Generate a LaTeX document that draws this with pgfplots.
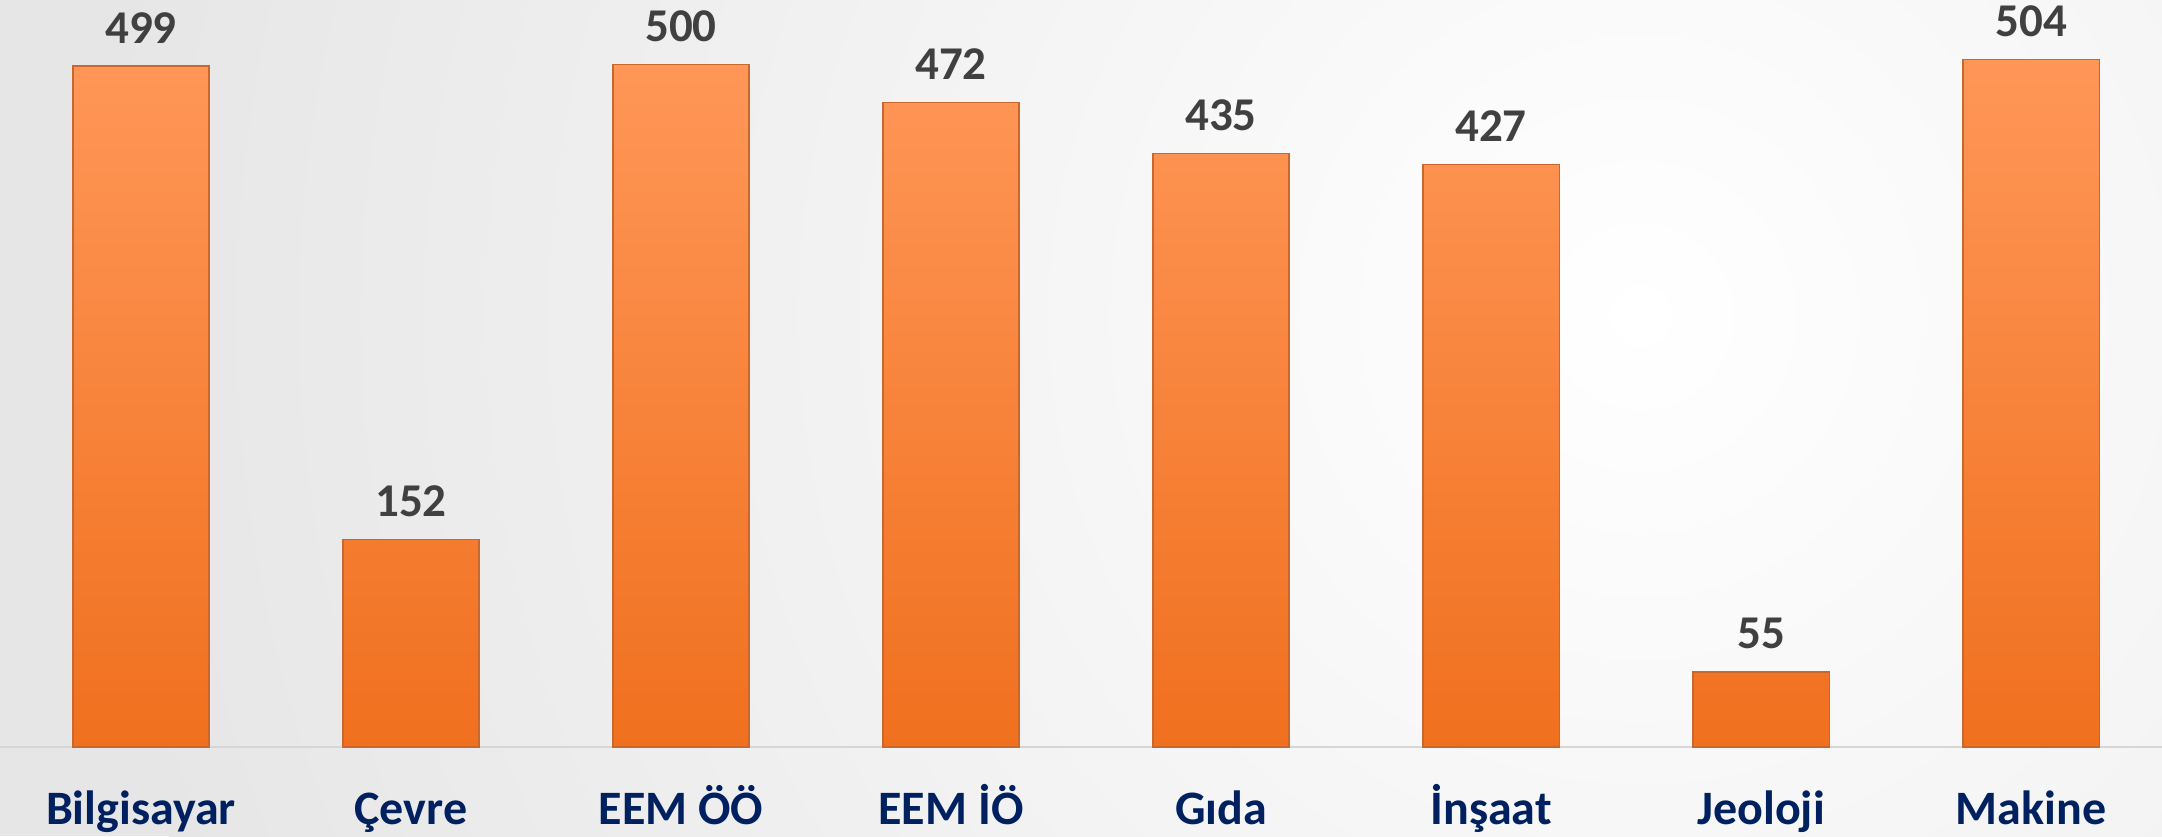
\documentclass[border=0pt]{standalone}
\usepackage{pgfplots}
\pgfplotsset{compat=1.18}
\usepackage{fontspec}
\setmainfont{Carlito}
\definecolor{navy}{HTML}{002060}
\definecolor{numgray}{HTML}{404040}
\definecolor{bartop}{HTML}{FF9758}
\definecolor{barbot}{HTML}{F0701E}
\definecolor{baredge}{HTML}{C9682E}
\definecolor{bgouter}{HTML}{E6E6E6}
\definecolor{baseline}{HTML}{D6D6D6}
\begin{document}
\begin{tikzpicture}
\begin{scope}
\clip (0,0) rectangle (1081pt,418pt);
\fill[bgouter] (0,0) rectangle (1081pt,418pt);
\shade[inner color=white, outer color=bgouter] (820pt,260pt) circle (780pt);
\end{scope}
\begin{axis}[
  at={(0,44.5pt)}, anchor=south west,
  scale only axis, width=1081pt, height=373.5pt,
  xmin=-0.522, xmax=7.485, ymin=0, ymax=547.4,
  axis x line*=bottom, axis y line=none,
  x axis line style={draw=baseline, line width=1pt},
  xtick=data, xtick style={draw=none},
  xticklabels={Bilgisayar, Çevre, EEM ÖÖ, EEM İÖ, Gıda, İnşaat, Jeoloji, Makine},
  xticklabel style={anchor=base, inner sep=0pt, yshift=-34.5pt, font=\fontsize{24}{28}\selectfont\bfseries, text=navy},
  ytick=\empty,
  clip=false,
  ybar, bar width=0.504,
  nodes near coords={\pgfmathprintnumber[assume math mode=true]{\pgfplotspointmeta}},
  every node near coord/.append style={anchor=base, inner sep=0pt, yshift=11.5pt, font=\fontsize{23.5}{27}\selectfont\bfseries, text=numgray},
]
\addplot[draw=baredge, line width=0.6pt, top color=bartop, bottom color=barbot] coordinates {
 (0,499) (1,152) (2,500) (3,472) (4,435) (5,427) (6,55) (7,504)
};
\end{axis}
\pgfresetboundingbox
\path[use as bounding box] (0,0) rectangle (1081pt,418pt);
\end{tikzpicture}
\end{document}
